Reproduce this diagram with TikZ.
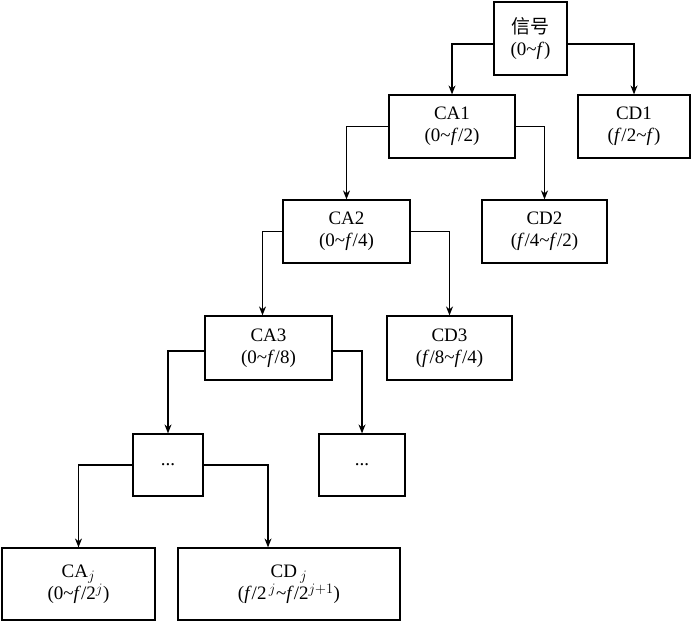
\documentclass[tikz,border=0pt]{standalone}
\usepackage{fontspec}
\setmainfont{Liberation Serif}
\newfontfamily\cjk{Noto Sans CJK SC}
\usetikzlibrary{arrows.meta}
\begin{document}
\begin{tikzpicture}[x=1pt,y=-1pt,
  box/.style={draw,line width=1.2pt,align=center,font=\fontsize{19}{22}\selectfont,inner sep=0pt},
  arr/.style={line width=1.2pt,-{Stealth[length=9pt,width=7pt]}}]
\useasboundingbox (0,0) rectangle (700,627);
\node[box,minimum width=73,minimum height=73] (s) at (530.5,38.5) {{\cjk 信号}\\(0\textasciitilde\textit{f})};
\node[box,minimum width=126,minimum height=63] (ca1) at (452,126.5) {CA1\\(0\textasciitilde\textit{f}/2)};
\node[box,minimum width=112,minimum height=63] (cd1) at (634,126.5) {CD1\\(\textit{f}/2\textasciitilde\textit{f})};
\node[box,minimum width=127,minimum height=63] (ca2) at (346.5,231.5) {CA2\\(0\textasciitilde\textit{f}/4)};
\node[box,minimum width=125,minimum height=63] (cd2) at (544.5,231.5) {CD2\\(\textit{f}/4\textasciitilde\textit{f}/2)};
\node[box,minimum width=127,minimum height=64] (ca3) at (268.5,348) {CA3\\(0\textasciitilde\textit{f}/8)};
\node[box,minimum width=125,minimum height=64] (cd3) at (449.5,348) {CD3\\(\textit{f}/8\textasciitilde\textit{f}/4)};
\node[box,minimum width=70,minimum height=62] (d1) at (168,465) {...};
\node[box,minimum width=86,minimum height=62] (d2) at (362,465) {...};
\node[box,minimum width=153,minimum height=72] (caj) at (78.5,584) {CA$_{j}$\\(0\textasciitilde\textit{f}/2$^{j}$)};
\node[box,minimum width=222,minimum height=72] (cdj) at (289,584) {CD\,$_{j}$\\(\textit{f}/2$^{\,j}$\textasciitilde\textit{f}/2$^{j+1}$)};
\draw[arr] (s.west|-0,44) -| (ca1.north);
\draw[arr] (s.east|-0,44) -| (cd1.north);
\draw[arr] (ca1.west) -| (ca2.north);
\draw[arr] (ca1.east) -| (cd2.north);
\draw[arr] (ca2.west) -| ([xshift=-6]ca3.north);
\draw[arr] (ca2.east) -| (cd3.north);
\draw[arr] (ca3.west|-0,351) -| (d1.north);
\draw[arr] (ca3.east|-0,351) -| (d2.north);
\draw[arr] (d1.west) -| (caj.north);
\draw[arr] (d1.east) -| ([xshift=-21]cdj.north);
\end{tikzpicture}
\end{document}
